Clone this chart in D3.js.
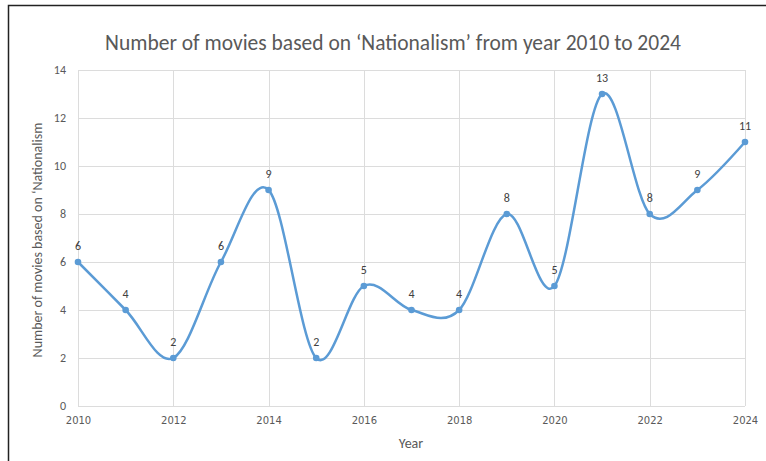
<!DOCTYPE html>
<html><head><meta charset="utf-8">
<script src="https://cdn.jsdelivr.net/npm/d3@7"></script>
<style>body{margin:0;background:#fff;} svg{display:block;}</style>
</head><body>
<svg id="c" width="766" height="461"></svg>
<script>
const years = [2010,2011,2012,2013,2014,2015,2016,2017,2018,2019,2020,2021,2022,2023,2024];
const movies = [6,4,2,6,9,2,5,4,4,8,5,13,8,9,11];
const xTicks = [2010,2012,2014,2016,2018,2020,2022,2024];
const yTicks = [0,2,4,6,8,10,12,14];
const title = "Number of movies based on \u2018Nationalism\u2019 from year 2010 to 2024";
const xTitle = "Year";
const yTitle = "Number of movies based on \u2018Nationalism";

const svg = d3.select("#c");
const font = "Calibri, 'Liberation Sans', 'Open Sans', sans-serif";
const L = 78, R = 745, T = 70, B = 406;
const x = d3.scaleLinear().domain([2010,2024]).range([L,R]);
const y = d3.scaleLinear().domain([0,14]).range([B,T]);

// frame
svg.append("path").attr("d","M8.5,461 V5.5 H766").attr("fill","none").attr("stroke","#222").attr("stroke-width",1.5);

// grid
svg.append("g").selectAll("line").data(yTicks).join("line")
  .attr("x1",L).attr("x2",R).attr("y1",d=>Math.round(y(d))+0.5).attr("y2",d=>Math.round(y(d))+0.5)
  .attr("stroke","#dcdcdc").attr("stroke-width",1);
svg.append("g").selectAll("line").data(xTicks).join("line")
  .attr("x1",d=>Math.round(x(d))+0.5).attr("x2",d=>Math.round(x(d))+0.5).attr("y1",T).attr("y2",B)
  .attr("stroke","#dcdcdc").attr("stroke-width",1);

// axes labels via d3 axes
const xa = svg.append("g").attr("transform",`translate(0,${B})`)
  .call(d3.axisBottom(x).tickValues(xTicks).tickFormat(d3.format("d")).tickSize(0).tickPadding(11));
const ya = svg.append("g").attr("transform",`translate(${L},0)`)
  .call(d3.axisLeft(y).tickValues(yTicks).tickSize(0).tickPadding(12));
[xa,ya].forEach(a=>{a.select(".domain").remove();
  a.selectAll("text").attr("fill","#595959").style("font-family","Verdana, 'DejaVu Sans', sans-serif").style("font-size","10px");});
ya.selectAll("text").style("font-family",font).style("font-size","12px");

// line
const pts = years.map((d,i)=>[x(d),y(movies[i])]);
svg.append("path").attr("d",d3.line().curve(d3.curveCatmullRom.alpha(0))(pts))
  .attr("fill","none").attr("stroke","#5b9bd5").attr("stroke-width",2.5);
svg.append("g").selectAll("circle").data(pts).join("circle")
  .attr("cx",d=>d[0]).attr("cy",d=>d[1]).attr("r",3.3).attr("fill","#5b9bd5");
svg.append("g").selectAll("text").data(years).join("text")
  .attr("x",d=>x(d)).attr("y",(d,i)=>y(movies[i])-12).attr("text-anchor","middle")
  .attr("fill","#404040").style("font-family",font).style("font-size","12px").text((d,i)=>movies[i]);

// titles
svg.append("text").attr("x",393).attr("y",50).attr("text-anchor","middle").attr("fill","#595959")
  .style("font-family",font).style("font-size","21.5px").text(title);
svg.append("text").attr("x",411).attr("y",448).attr("text-anchor","middle").attr("fill","#595959")
  .style("font-family",font).style("font-size","14px").text(xTitle);
svg.append("text").attr("transform","translate(42,240) rotate(-90)").attr("text-anchor","middle").attr("fill","#595959")
  .style("font-family",font).style("font-size","14px").text(yTitle);
</script>
</body></html>
